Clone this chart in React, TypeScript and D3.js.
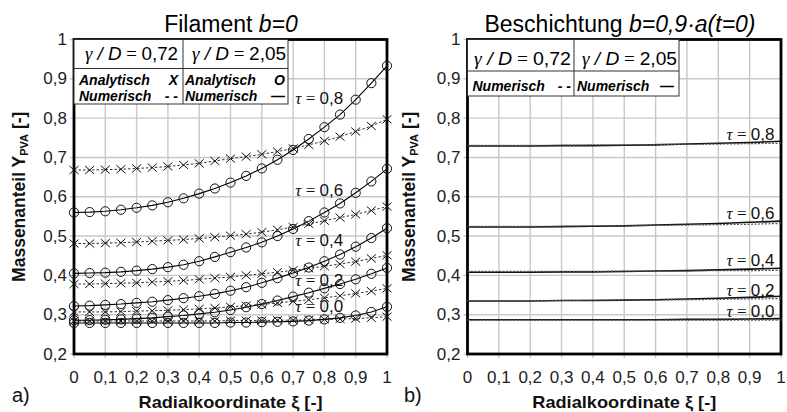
import React from "react";
import * as d3 from "d3";

// ---------- data ----------
const XI_L = [0, 0.05, 0.1, 0.15, 0.2, 0.25, 0.3, 0.35, 0.4, 0.45, 0.5, 0.55, 0.6, 0.65, 0.7, 0.75, 0.8, 0.85, 0.9, 0.95, 1];
const XI_R = [0, 0.1, 0.2, 0.3, 0.4, 0.5, 0.6, 0.7, 0.8, 0.9, 1];

const Y_TICKS = [0.2, 0.3, 0.4, 0.5, 0.6, 0.7, 0.8, 0.9, 1];
const Y_TICK_LABELS = ["0,2", "0,3", "0,4", "0,5", "0,6", "0,7", "0,8", "0,9", "1"];
const X_TICKS = [0, 0.1, 0.2, 0.3, 0.4, 0.5, 0.6, 0.7, 0.8, 0.9, 1];
const X_TICK_LABELS = ["0", "0,1", "0,2", "0,3", "0,4", "0,5", "0,6", "0,7", "0,8", "0,9", "1"];
const TAU_LABELS = ["0,0", "0,2", "0,4", "0,6", "0,8"];

// Filament b=0, gamma/D = 2.05 (analytic O, numeric solid)
const FIL_O_00 = [0.279, 0.279, 0.279, 0.279, 0.279, 0.279, 0.279, 0.279, 0.279, 0.279, 0.28, 0.28, 0.281, 0.282, 0.283, 0.285, 0.288, 0.292, 0.298, 0.307, 0.32];
const FIL_O_02 = [0.286, 0.286, 0.287, 0.288, 0.29, 0.292, 0.295, 0.298, 0.302, 0.306, 0.312, 0.319, 0.327, 0.336, 0.346, 0.356, 0.367, 0.378, 0.39, 0.404, 0.419];
const FIL_O_04 = [0.322, 0.323, 0.325, 0.327, 0.33, 0.333, 0.337, 0.342, 0.347, 0.353, 0.361, 0.37, 0.381, 0.393, 0.406, 0.42, 0.436, 0.453, 0.473, 0.495, 0.52];
const FIL_O_06 = [0.405, 0.406, 0.407, 0.409, 0.412, 0.416, 0.421, 0.427, 0.436, 0.447, 0.459, 0.471, 0.484, 0.5, 0.518, 0.538, 0.56, 0.583, 0.61, 0.639, 0.671];
const FIL_O_08 = [0.56, 0.561, 0.563, 0.567, 0.572, 0.578, 0.586, 0.596, 0.608, 0.621, 0.636, 0.653, 0.672, 0.694, 0.719, 0.747, 0.777, 0.809, 0.847, 0.889, 0.933];

// Filament b=0, gamma/D = 0.72 (analytic X, numeric dashed)
const FIL_X_00 = [0.284, 0.284, 0.284, 0.284, 0.284, 0.284, 0.284, 0.284, 0.284, 0.284, 0.285, 0.285, 0.285, 0.286, 0.286, 0.287, 0.288, 0.289, 0.29, 0.292, 0.295];
const FIL_X_02 = [0.307, 0.307, 0.307, 0.308, 0.309, 0.31, 0.311, 0.313, 0.315, 0.317, 0.32, 0.323, 0.326, 0.33, 0.334, 0.338, 0.343, 0.348, 0.354, 0.36, 0.367];
const FIL_X_04 = [0.378, 0.378, 0.379, 0.38, 0.381, 0.383, 0.385, 0.387, 0.39, 0.393, 0.396, 0.4, 0.404, 0.408, 0.413, 0.418, 0.423, 0.429, 0.435, 0.443, 0.451];
const FIL_X_06 = [0.481, 0.481, 0.482, 0.483, 0.485, 0.487, 0.489, 0.491, 0.494, 0.497, 0.501, 0.505, 0.51, 0.516, 0.523, 0.531, 0.539, 0.547, 0.555, 0.565, 0.575];
const FIL_X_08 = [0.668, 0.668, 0.669, 0.67, 0.672, 0.674, 0.677, 0.681, 0.685, 0.691, 0.697, 0.702, 0.708, 0.715, 0.723, 0.732, 0.742, 0.753, 0.766, 0.78, 0.797];

// Beschichtung, numeric gamma/D = 2.05 (solid)
const BES_S_00 = [0.287, 0.287, 0.287, 0.287, 0.287, 0.287, 0.287, 0.288, 0.288, 0.289, 0.29];
const BES_S_02 = [0.335, 0.335, 0.335, 0.336, 0.336, 0.337, 0.338, 0.34, 0.342, 0.344, 0.347];
const BES_S_04 = [0.408, 0.408, 0.408, 0.409, 0.409, 0.41, 0.411, 0.412, 0.414, 0.416, 0.418];
const BES_S_06 = [0.523, 0.523, 0.523, 0.524, 0.525, 0.526, 0.528, 0.53, 0.532, 0.535, 0.538];
const BES_S_08 = [0.729, 0.729, 0.729, 0.73, 0.73, 0.731, 0.732, 0.734, 0.736, 0.738, 0.741];
// Beschichtung, numeric gamma/D = 0.72 (dashed)
const BES_D_00 = [0.286, 0.286, 0.286, 0.286, 0.286, 0.286, 0.286, 0.286, 0.286, 0.286, 0.286];
const BES_D_02 = [0.336, 0.336, 0.336, 0.336, 0.337, 0.337, 0.337, 0.338, 0.339, 0.34, 0.341];
const BES_D_04 = [0.41, 0.41, 0.41, 0.41, 0.41, 0.411, 0.411, 0.411, 0.412, 0.412, 0.413];
const BES_D_06 = [0.525, 0.525, 0.525, 0.525, 0.526, 0.526, 0.527, 0.528, 0.529, 0.53, 0.532];
const BES_D_08 = [0.731, 0.731, 0.731, 0.731, 0.732, 0.732, 0.733, 0.733, 0.734, 0.735, 0.736];

const FIL_O = [FIL_O_00, FIL_O_02, FIL_O_04, FIL_O_06, FIL_O_08];
const FIL_X = [FIL_X_00, FIL_X_02, FIL_X_04, FIL_X_06, FIL_X_08];
const BES_S = [BES_S_00, BES_S_02, BES_S_04, BES_S_06, BES_S_08];
const BES_D = [BES_D_00, BES_D_02, BES_D_04, BES_D_06, BES_D_08];

// ---------- layout ----------
const SANS = "'Liberation Sans', Arial, sans-serif";
const SERIF = "'Liberation Serif', 'Times New Roman', serif";
const Y_TOP = 39.5;
const Y_BOT = 354;
const PANELS = [
  { x0: 74, x1: 387, label: "a)", labelX: 12, titleX: 25 },
  { x0: 467.5, x1: 781, label: "b)", labelX: 404, titleX: 415 },
];
// label anchor (right end of text) in data coordinates [xi, value]
const TAU_POS_L = [[0.86, 0.306], [0.86, 0.374], [0.86, 0.475], [0.86, 0.602], [0.86, 0.835]];
const TAU_POS_R = [[0.979, 0.295], [0.979, 0.348], [0.979, 0.424], [0.979, 0.543], [0.979, 0.744]];

const TauLabel = ({ x, y, t }: { x: number; y: number; t: string }) => (
  <text x={x} y={y} textAnchor="end" fontSize={17} fill="#111">
    <tspan fontFamily={SERIF} fontStyle="italic">τ</tspan>
    <tspan fontFamily={SERIF}> = </tspan>
    <tspan fontFamily={SANS}>{t}</tspan>
  </text>
);

const GammaCell = ({ cx, y, val, w }: { cx: number; y: number; val: string; w: number }) => (
  <text x={cx} y={y} textAnchor="middle" fontSize={18.5} fill="#000" textLength={w} lengthAdjust="spacingAndGlyphs">
    <tspan fontFamily={SERIF} fontStyle="italic">γ</tspan>
    <tspan fontFamily={SANS} fontStyle="italic"> / D</tspan>
    <tspan fontFamily={SERIF}> = </tspan>
    <tspan fontFamily={SANS}>{val}</tspan>
  </text>
);

export default function App() {
  const yS = d3.scaleLinear().domain([0.2, 1]).range([Y_BOT, Y_TOP]);
  const xScales = PANELS.map((p) => d3.scaleLinear().domain([0, 1]).range([p.x0, p.x1]));

  const lineL = d3
    .line<number>()
    .x((_, i) => xScales[0](XI_L[i]))
    .y((d) => yS(d));
  const lineR = d3
    .line<number>()
    .x((_, i) => xScales[1](XI_R[i]))
    .y((d) => yS(d));

  const grid = (pi: number) => {
    const xs = xScales[pi];
    const p = PANELS[pi];
    return (
      <g key={"grid" + pi}>
        {X_TICKS.map((t, i) => (
          <line key={"vx" + i} x1={xs(t)} x2={xs(t)} y1={Y_TOP} y2={Y_BOT + 4} stroke="#c8c8c8" strokeWidth={1.4} />
        ))}
        {Y_TICKS.map((t, i) => (
          <line key={"hy" + i} x1={p.x0 - 4} x2={p.x1} y1={yS(t)} y2={yS(t)} stroke="#c8c8c8" strokeWidth={1.4} />
        ))}
        {Y_TICKS.map((t, i) => (
          <text key={"yl" + i} x={p.x0 - 7} y={yS(t) + 5.5} textAnchor="end" fontFamily={SANS} fontSize={17} fill="#222">
            {Y_TICK_LABELS[i]}
          </text>
        ))}
        {X_TICKS.map((t, i) => (
          <text key={"xl" + i} x={xs(t)} y={383} textAnchor="middle" fontFamily={SANS} fontSize={17} fill="#222">
            {X_TICK_LABELS[i]}
          </text>
        ))}
        <rect x={p.x0} y={Y_TOP} width={p.x1 - p.x0} height={Y_BOT - Y_TOP} fill="none" stroke="#000" strokeWidth={2.8} />
        <text
          x={(p.x0 + p.x1) / 2}
          y={407.5}
          textAnchor="middle"
          fontFamily={SANS}
          fontWeight="bold"
          fontSize={17}
          fill="#111"
          textLength={184}
          lengthAdjust="spacingAndGlyphs"
        >
          Radialkoordinate ξ [-]
        </text>
        <text x={p.labelX} y={402} fontFamily={SANS} fontSize={20} fill="#111">
          {p.label}
        </text>
        <text
          transform={`translate(${p.titleX},${(Y_TOP + Y_BOT) / 2}) rotate(-90)`}
          textAnchor="middle"
          fontFamily={SANS}
          fontWeight="bold"
          fontSize={17.5}
          fill="#111"
        >
          Massenanteil Y
          <tspan fontSize={11} dy={3}>PVA</tspan>
          <tspan dy={-3}> [-]</tspan>
        </text>
      </g>
    );
  };

  const xL = xScales[0];
  const xR = xScales[1];

  return (
    <svg width={787} height={412} style={{ position: "absolute", left: 0, top: 0, background: "#fff" }}>
      <rect x={0} y={0} width={787} height={412} fill="#fff" />
      {grid(0)}
      {grid(1)}

      {/* titles */}
      <text x={231} y={32} textAnchor="middle" fontFamily={SANS} fontSize={23} fill="#000">
        Filament <tspan fontStyle="italic">b=0</tspan>
      </text>
      <text x={620} y={32} textAnchor="middle" fontFamily={SANS} fontSize={23} fill="#000">
        Beschichtung <tspan fontStyle="italic">b=0,9·a(t=0)</tspan>
      </text>

      {/* left legend table */}
      <g>
        <rect x={74} y={Y_TOP} width={214} height={104 - Y_TOP} fill="#fff" stroke="#333" strokeWidth={1} />
        <line x1={74} x2={288} y1={68.5} y2={68.5} stroke="#333" strokeWidth={1} />
        <line x1={183} x2={183} y1={Y_TOP} y2={104} stroke="#333" strokeWidth={1} />
        <GammaCell cx={131.5} y={59.5} val="0,72" w={93} />
        <GammaCell cx={239} y={59.5} val="2,05" w={94} />
        <g fontFamily={SANS} fontWeight="bold" fontStyle="italic" fontSize={14} fill="#000">
          <text x={79} y={85}>Analytisch</text>
          <text x={178} y={85} textAnchor="end">X</text>
          <text x={79} y={100.5}>Numerisch</text>
          <text x={178} y={100.5} textAnchor="end">- -</text>
          <text x={185} y={85}>Analytisch</text>
          <text x={285} y={85} textAnchor="end">O</text>
          <text x={185} y={100.5}>Numerisch</text>
          <text x={285} y={100.5} textAnchor="end">—</text>
        </g>
      </g>

      {/* right legend table */}
      <g>
        <rect x={467.5} y={Y_TOP} width={211.5} height={96 - Y_TOP} fill="#fff" stroke="#333" strokeWidth={1} />
        <line x1={467.5} x2={679} y1={71} y2={71} stroke="#333" strokeWidth={1} />
        <line x1={574} x2={574} y1={Y_TOP} y2={96} stroke="#333" strokeWidth={1} />
        <GammaCell cx={522.5} y={64.5} val="0,72" w={97} />
        <GammaCell cx={629.5} y={64.5} val="2,05" w={95} />
        <g fontFamily={SANS} fontWeight="bold" fontStyle="italic" fontSize={14} fill="#000">
          <text x={472.5} y={91}>Numerisch</text>
          <text x={571} y={91} textAnchor="end">- -</text>
          <text x={577} y={91}>Numerisch</text>
          <text x={674} y={91} textAnchor="end">—</text>
        </g>
      </g>

      {/* left panel data */}
      <g>
        {FIL_X.map((s, k) => (
          <path key={"xd" + k} d={lineL(s) || ""} fill="none" stroke="#333" strokeWidth={1} strokeDasharray="2.5,2" />
        ))}
        {FIL_O.map((s, k) => (
          <path key={"os" + k} d={lineL(s) || ""} fill="none" stroke="#000" strokeWidth={1.1} />
        ))}
        {FIL_X.map((s, k) =>
          s.map((v, i) => {
            const cx = xL(XI_L[i]);
            const cy = yS(v);
            return (
              <path
                key={"xm" + k + "_" + i}
                d={`M${cx - 4.5},${cy - 4}L${cx + 4.5},${cy + 4}M${cx - 4.5},${cy + 4}L${cx + 4.5},${cy - 4}`}
                stroke="#111"
                strokeWidth={1}
                fill="none"
              />
            );
          })
        )}
        {FIL_O.map((s, k) =>
          s.map((v, i) => (
            <circle key={"om" + k + "_" + i} cx={xL(XI_L[i])} cy={yS(v)} r={4.6} fill="none" stroke="#111" strokeWidth={1} />
          ))
        )}
        {TAU_LABELS.map((t, k) => (
          <TauLabel key={"tl" + k} x={xL(TAU_POS_L[k][0])} y={yS(TAU_POS_L[k][1])} t={t} />
        ))}
      </g>

      {/* right panel data */}
      <g>
        {BES_S.map((s, k) => (
          <path key={"rs" + k} d={lineR(s) || ""} fill="none" stroke="#111" strokeWidth={1.6} />
        ))}
        {BES_D.map((s, k) => (
          <path key={"rd" + k} d={lineR(s) || ""} fill="none" stroke="#555" strokeWidth={1.2} strokeDasharray="2,1.5" />
        ))}
        {TAU_LABELS.map((t, k) => (
          <TauLabel key={"tr" + k} x={xR(TAU_POS_R[k][0])} y={yS(TAU_POS_R[k][1])} t={t} />
        ))}
      </g>
    </svg>
  );
}
